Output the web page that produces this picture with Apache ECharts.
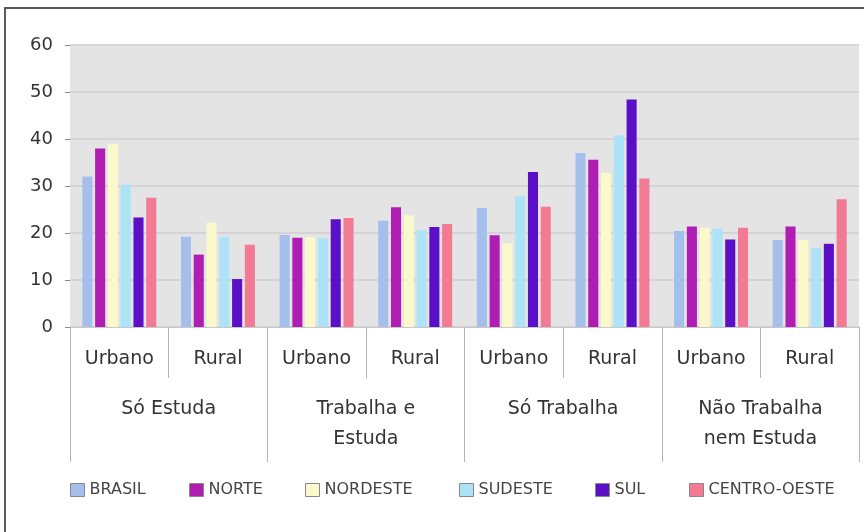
<!DOCTYPE html>
<html>
<head>
<meta charset="utf-8">
<script src="https://cdn.jsdelivr.net/npm/echarts@6/dist/echarts.min.js"></script>
<style>html,body{margin:0;padding:0;background:#fff;}#c{width:864px;height:532px;}</style>
</head>
<body>
<div id="c"></div>
<script>
const categories = ['Urbano','Rural','Urbano','Rural','Urbano','Rural','Urbano','Rural'];
const groups = ['Só Estuda','Trabalha e\nEstuda','Só Trabalha','Não Trabalha\nnem Estuda'];
const seriesNames = ['BRASIL','NORTE','NORDESTE','SUDESTE','SUL','CENTRO-OESTE'];
const BRASIL   = [32.0, 19.2, 19.6, 22.6, 25.3, 37.0, 20.4, 18.5];
const NORTE    = [38.0, 15.4, 19.0, 25.5, 19.5, 35.6, 21.4, 21.4];
const NORDESTE = [39.0, 22.2, 19.1, 23.8, 17.8, 32.8, 21.1, 18.5];
const SUDESTE  = [30.3, 19.1, 18.9, 20.6, 27.8, 40.8, 20.9, 16.8];
const SUL      = [23.3, 10.2, 22.9, 21.3, 33.0, 48.4, 18.6, 17.7];
const CENTRO_OESTE = [27.5, 17.5, 23.2, 21.9, 25.6, 31.6, 21.1, 27.2];
const yTicks = [0, 60, 10];

const values = [BRASIL, NORTE, NORDESTE, SUDESTE, SUL, CENTRO_OESTE];
const colors = ['#a5bfec','#b01db2','#fbf8cc','#ade3f6','#5b0fc6','#f27a93'];
const legendLeft = [70, 189, 305, 459, 595, 689];
const font = 'DejaVu Sans';

const chart = echarts.init(document.getElementById('c'));
chart.setOption({
  animation: false,
  backgroundColor: '#ffffff',
  grid: {left: 70, right: 5, top: 45, bottom: 205, show: true, backgroundColor: '#e4e4e4', borderWidth: 0},
  legend: seriesNames.map((n, i) => ({
    data: [n], left: legendLeft[i], top: 482, padding: 0, itemWidth: 14, itemHeight: 13, itemGap: 5,
    icon: 'rect',
    itemStyle: {borderColor: '#888', borderWidth: 1},
    textStyle: {fontFamily: font, fontSize: 16, color: '#444'}
  })),
  xAxis: [
    {
      type: 'category', data: categories, position: 'bottom',
      axisLine: {show: true, lineStyle: {color: '#c8c8c8'}},
      axisTick: {show: true, interval: 0, length: 51, lineStyle: {color: '#b4b4b4'}},
      axisLabel: {interval: 0, margin: 23, fontFamily: font, fontSize: 19, color: '#333'}
    },
    {
      type: 'category', data: groups, position: 'bottom', gridIndex: 0,
      axisLine: {show: false},
      axisTick: {show: true, interval: 0, length: 135, lineStyle: {color: '#b4b4b4'}},
      axisLabel: {interval: 0, margin: 67, fontFamily: font, fontSize: 19, color: '#333', lineHeight: 30}
    }
  ],
  yAxis: {
    type: 'value', min: yTicks[0], max: yTicks[1], interval: yTicks[2],
    axisLine: {show: false},
    axisTick: {show: true, length: 5, lineStyle: {color: '#888'}},
    axisLabel: {margin: 17, fontFamily: font, fontSize: 18, color: '#333'},
    splitLine: {lineStyle: {color: '#cfcfcf', width: 1.5}}
  },
  series: seriesNames.map((n, i) => ({
    name: n, type: 'bar', xAxisIndex: 0, data: values[i],
    barCategoryGap: '25%', barGap: '27%',
    itemStyle: {color: colors[i]}
  })),
  graphic: [{
    type: 'rect', silent: true, z: 100,
    shape: {x: 5, y: 8, width: 880, height: 540},
    style: {fill: 'none', stroke: '#5a5a5a', lineWidth: 2}
  }]
});
</script>
</body>
</html>
